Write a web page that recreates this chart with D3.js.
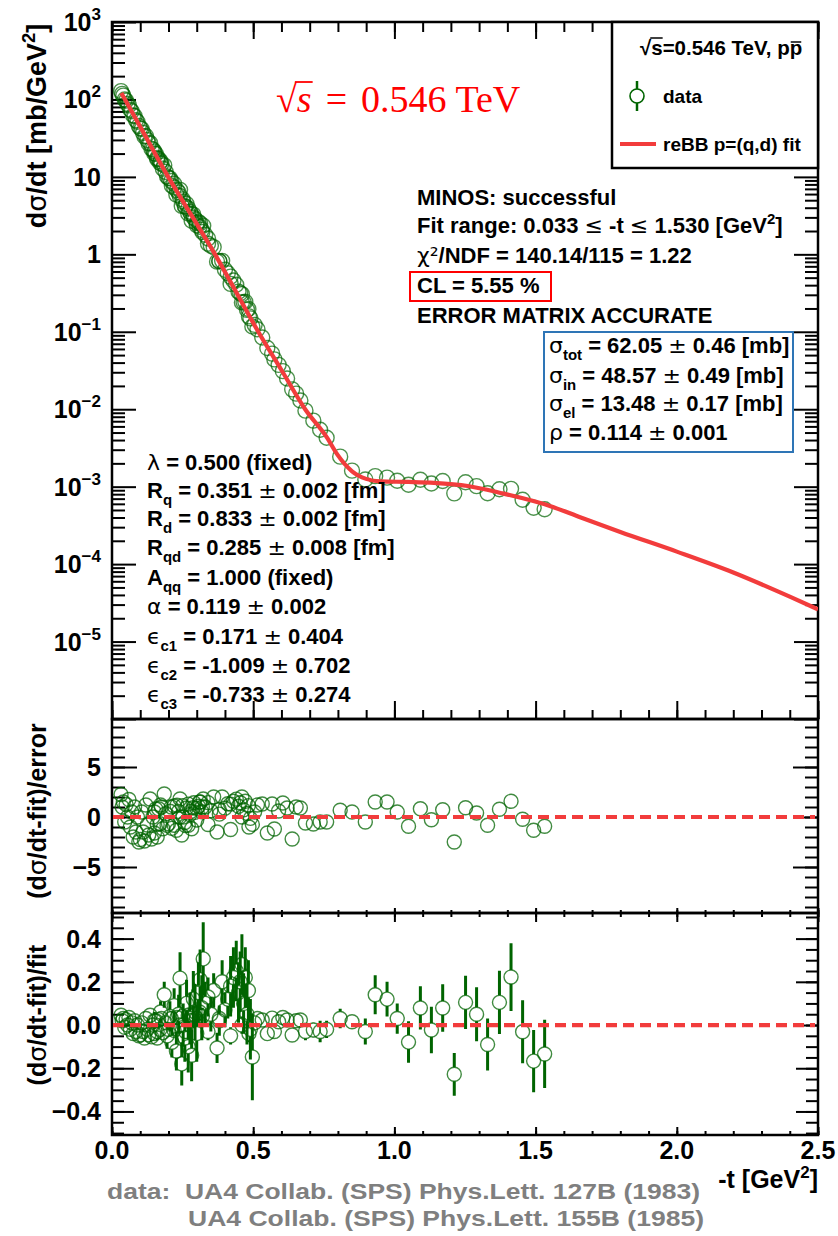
<!DOCTYPE html>
<html>
<head>
<meta charset="utf-8">
<script src="https://cdn.jsdelivr.net/npm/d3@7"></script>
<style>
  body { margin: 0; background: #fff; }
  svg { display: block; }
  text { font-family: "Liberation Sans", Arial, sans-serif; font-weight: bold; fill: #000; }
</style>
</head>
<body>
<svg id="chart" width="838" height="1236"></svg>
<script>
// ---------- measured points: -t [GeV^2], dsigma/dt [mb/GeV^2] ----------
const tVals = [
  0.032,0.036,0.040,0.045,0.050,0.055,0.060,0.065,0.070,0.075,0.080,0.085,0.090,0.095,0.100,0.105,0.110,
  0.115,0.120,0.125,0.130,0.135,0.140,0.145,0.150,0.155,
  0.160,0.165,0.170,0.175,0.180,0.190,0.200,0.210,0.220,0.230,0.240,
  0.250,0.260,0.270,0.280,0.290,0.300,0.310,0.320,
  0.340,0.380,0.420,0.460,0.485,
  0.150,0.160,0.172,0.185,0.195,0.205,0.212,0.220,0.228,0.236,
  0.241,0.247,0.252,0.258,0.264,0.270,0.276,0.282,0.288,0.294,
  0.300,0.306,0.312,0.318,0.323,0.330,0.340,0.350,0.360,0.372,
  0.380,0.390,0.400,0.410,0.420,0.430,0.440,0.448,0.454,0.460,
  0.466,0.472,0.478,0.483,0.490,0.497,
  0.505,0.515,0.532,0.550,0.567,0.575,0.590,0.605,0.620,0.638,
  0.652,0.667,0.685,0.713,0.737,0.760,0.808,0.850,0.897,0.932,
  0.974,1.010,1.050,1.092,1.131,1.171,1.212,1.252,1.291,1.330,
  1.372,1.413,1.454,1.493,1.532
];
const dsdtVals = [
  128,118,112,100,96.5,87.3,83.8,73.6,70.3,62.1,61.2,53.9,51.6,45.5,42.4,41.6,37.0,
  33.3,33.8,29.9,27.0,27.4,23.0,22.5,20.1,19.8,
  16.9,17.1,15.2,14.8,12.8,11.6,9.66,8.85,7.29,6.73,5.66,
  5.13,4.16,3.90,3.32,2.97,2.54,2.27,1.94,
  1.37,0.822,0.415,0.239,0.158,
  21.3,17.5,15.9,14.1,10.1,9.57,7.69,8.15,5.89,6.29,
  6.80,4.22,4.80,4.15,4.47,3.36,3.54,2.72,3.26,2.84,
  2.37,2.61,2.52,2.07,2.34,1.79,1.60,1.29,1.24,0.804,
  0.814,0.824,0.631,0.569,0.516,0.459,0.405,0.330,0.314,0.306,
  0.241,0.244,0.192,0.197,0.149,0.117,
  0.1228,0.1078,0.0843,0.0616,0.0523,0.0440,0.0374,0.0310,0.0249,0.01805,
  0.0159,0.01295,0.00959,0.00712,0.00544,0.00428,0.00244,0.00161,0.00124,0.00137,
  0.00131,0.00119,0.001057,0.001226,0.00110,0.001183,0.00082,0.001139,0.001016,0.000821,
  0.000925,0.000937,0.000678,0.000535,0.00051
];
// (dsigma/dt - fit)/error
const pullVals = [
  2.25,1.0,1.5,-0.5,1.25,0,1.75,-1.0,0.5,-2.0,1.0,-1.5,0,-2.5,-2.25,0.5,-1.5,
  -2.4,1.2,-0.8,-1.8,1.8,-2.2,0,-1.6,0.8,
  -2.0,0.83,-0.67,1.0,-1.17,0.33,-0.67,1.0,-0.83,1.17,0,
  1.14,-0.86,1.29,0.57,1.43,0.86,1.5,1.0,
  -0.75,0.75,-1.25,0,-1.0,
  0.5,-0.75,1.2,2.3,-0.83,0.57,-1.14,1.1,-1.33,0.56,
  1.8,-1.8,0,-0.55,0.9,-0.83,0.25,-1.17,0.92,0.46,
  -0.3,1.07,1.5,0.53,1.8,1.0,1.44,0.63,2.0,-1.5,
  0.29,2.0,0.88,1.33,1.29,1.57,1.79,1.07,1.43,2.0,
  0.71,1.57,0.36,1.14,-0.14,-0.74,
  0.5,1.2,1.3,-1.6,1.3,-1.2,0.6,1.4,0.9,-2.2,
  1.0,0.9,-0.6,-0.7,-0.5,-0.5,0.67,0.5,-0.5,1.5,
  1.5,0.5,-0.93,0.83,-0.27,0.73,-2.5,0.93,0.4,-0.83,
  0.77,1.57,-0.23,-1.33,-0.93
];
// (dsigma/dt - fit)/fit and its relative error
const relResVals = [
  0.045,0.02,0.03,-0.01,0.025,0,0.035,-0.02,0.01,-0.04,0.02,-0.03,0,-0.05,-0.045,0.01,-0.03,
  -0.06,0.03,-0.02,-0.045,0.045,-0.055,0,-0.04,0.02,
  -0.06,0.025,-0.02,0.03,-0.035,0.01,-0.02,0.03,-0.025,0.035,0,
  0.04,-0.03,0.045,0.02,0.05,0.03,0.06,0.04,
  -0.03,0.03,-0.05,0,-0.04,
  0.02,-0.03,0.06,0.14,-0.05,0.04,-0.08,0.09,-0.12,0.05,
  0.217,-0.18,0,-0.06,0.10,-0.10,0.03,-0.14,0.12,0.06,
  -0.04,0.15,0.21,0.08,0.306,0.10,0.13,0.05,0.16,-0.106,
  0.02,0.20,0.07,0.12,0.18,0.22,0.25,0.15,0.20,0.28,
  0.10,0.22,0.05,0.16,-0.02,-0.148,
  0.01,0.03,0.023,-0.04,0.032,-0.03,0.015,0.035,0.023,-0.046,
  0.02,0.023,-0.03,-0.023,-0.03,-0.02,0.03,0.015,-0.03,0.14,
  0.12,0.03,-0.079,0.079,-0.023,0.079,-0.228,0.105,0.05,-0.09,
  0.105,0.222,-0.031,-0.167,-0.134
];
const relErrVals = [
  0.02,0.02,0.02,0.02,0.02,0.02,0.02,0.02,0.02,0.02,0.02,0.02,0.02,0.02,0.02,0.02,0.02,
  0.025,0.025,0.025,0.025,0.025,0.025,0.025,0.025,0.025,
  0.03,0.03,0.03,0.03,0.03,0.03,0.03,0.03,0.03,0.03,0.03,
  0.035,0.035,0.035,0.035,0.035,0.035,0.04,0.04,
  0.04,0.04,0.04,0.04,0.04,
  0.04,0.04,0.05,0.06,0.06,0.07,0.07,0.08,0.09,0.09,
  0.12,0.10,0.10,0.11,0.11,0.12,0.12,0.12,0.13,0.13,
  0.13,0.14,0.14,0.15,0.17,0.10,0.09,0.08,0.08,0.07,
  0.07,0.10,0.08,0.09,0.14,0.14,0.14,0.14,0.14,0.14,
  0.14,0.14,0.14,0.14,0.14,0.20,
  0.02,0.025,0.018,0.025,0.025,0.025,0.025,0.025,0.025,0.021,
  0.02,0.025,0.04,0.033,0.05,0.04,0.045,0.03,0.06,0.09,
  0.08,0.07,0.096,0.10,0.108,0.11,0.099,0.123,0.125,0.12,
  0.146,0.157,0.146,0.144,0.158
];

// ---------- reBB model curve ----------
const fitT = [0.033,0.046,0.10,0.199,0.28,0.365,0.44,0.518,0.60,0.684,0.762,0.797,0.85,0.90,0.95,1.05,1.14,1.26,1.376,1.553,1.66,1.80,2.00,2.20,2.40,2.50];
const fitV = [121,100,44.4,10,3.25,1,0.324,0.1,0.0321,0.01,0.00427,0.00263,0.00158,0.00126,0.00117,0.00115,0.00112,0.00102,0.00083,0.00056,0.0004,0.00026,0.000145,0.000078,0.000038,0.000026];

// ---------- axis ticks ----------
const xMajor = [0, 0.5, 1.0, 1.5, 2.0, 2.5];
const xLabels = ["0.0", "0.5", "1.0", "1.5", "2.0", "2.5"];
const xMinor = d3.range(0, 26).map(i => i / 10);
const mainExps = [3, 2, 1, 0, -1, -2, -3, -4, -5];
const pullMajor = [-5, 0, 5];
const pullLabels = ["\u22125", "0", "5"];
const pullMinor = d3.range(-9, 10);
const relMajor = [-0.4, -0.2, 0.0, 0.2, 0.4];
const relLabels = ["\u22120.4", "\u22120.2", "0.0", "0.2", "0.4"];
const relMinor = d3.range(-10, 11).map(i => i * 0.05);

// ---------- layout ----------
const svg = d3.select("#chart");
const X0 = 112, X1 = 818;
const P1 = [22, 719], P2 = [719, 913], P3 = [913, 1135];
const GREEN = "#006400", RED = "#f23c3c";

const x = d3.scaleLinear().domain([0, 2.5]).range([X0, X1]);
const yMain = d3.scaleLog().domain([1e-6, 1e3]).range([P1[1], P1[0]]);
const yPull = d3.scaleLinear().domain([-9.6, 9.8]).range([P2[1], P2[0]]);
const yRel = d3.scaleLinear().domain([-0.509, 0.5185]).range([P3[1], P3[0]]);

const logMinor = [];
for (let e = -6; e < 3; e++) for (let m = 2; m <= 9; m++) logMinor.push(m * Math.pow(10, e));
const logMajor = d3.range(-6, 4).map(e => Math.pow(10, e));

function tickGroup(axisGen, scale, vals, size, tx, ty) {
  const g = svg.append("g").attr("transform", `translate(${tx},${ty})`)
    .call(axisGen(scale).tickValues(vals).tickSize(size).tickFormat(""));
  g.select(".domain").remove();
  g.selectAll("line").attr("stroke", "#000").attr("stroke-width", 2);
  return g;
}

// ticks on all four sides of each pad
function padTicks(yScale, yMaj, yMin, yMajLen, yMinLen, top, bottom, xb, xt) {
  tickGroup(d3.axisRight, yScale, yMaj, yMajLen, X0, 0);
  tickGroup(d3.axisRight, yScale, yMin, yMinLen, X0, 0);
  tickGroup(d3.axisLeft, yScale, yMaj, yMajLen, X1, 0);
  tickGroup(d3.axisLeft, yScale, yMin, yMinLen, X1, 0);
  if (xb) { tickGroup(d3.axisTop, x, xMajor, xb[0], 0, bottom); tickGroup(d3.axisTop, x, xMinor, xb[1], 0, bottom); }
  if (xt) { tickGroup(d3.axisBottom, x, xMajor, xt[0], 0, top); tickGroup(d3.axisBottom, x, xMinor, xt[1], 0, top); }
}

padTicks(yMain, logMajor, logMinor, 24, 13, P1[0], P1[1], [18, 9], [17, 10]);
padTicks(yPull, pullMajor, pullMinor, 25, 13, P2[0], P2[1], [5, 3], null);
padTicks(yRel, relMajor, relMinor, 22, 12, P3[0], P3[1], [8, 4], [9, 4]);

// pad frames
[P1, P2, P3].forEach(p => {
  svg.append("rect").attr("x", X0).attr("y", p[0]).attr("width", X1 - X0).attr("height", p[1] - p[0])
    .attr("fill", "none").attr("stroke", "#000").attr("stroke-width", 2.5);
});

// ---------- tick labels ----------
const lab = svg.append("g");
mainExps.forEach(e => {
  const t = lab.append("text").attr("x", 101).attr("y", yMain(Math.pow(10, e)) + 9)
    .attr("text-anchor", "end").attr("font-size", 25);
  if (e === 0) t.text("1");
  else if (e === 1) t.text("10");
  else {
    t.append("tspan").text("10");
    t.append("tspan").attr("dy", -11).attr("font-size", 17).text(e < 0 ? "\u2212" + (-e) : String(e));
  }
});
pullMajor.forEach((v, i) => {
  lab.append("text").attr("x", 101).attr("y", yPull(v) + 9).attr("text-anchor", "end")
    .attr("font-size", 25).text(pullLabels[i]);
});
relMajor.forEach((v, i) => {
  lab.append("text").attr("x", 101).attr("y", yRel(v) + 9).attr("text-anchor", "end")
    .attr("font-size", 25).text(relLabels[i]);
});
xMajor.forEach((v, i) => {
  lab.append("text").attr("x", x(v)).attr("y", 1159).attr("text-anchor", "middle")
    .attr("font-size", 25).text(xLabels[i]);
});

// ---------- rich text helper (sub/superscripts, greek glyphs) ----------
function rich(g, px, py, parts, size, anchor) {
  const t = g.append("text").attr("x", px).attr("y", py).attr("font-size", size)
    .attr("text-anchor", anchor || "start");
  let shift = 0;
  parts.forEach(p => {
    if (typeof p === "string") p = { s: p };
    const s = t.append("tspan").text(p.s);
    const target = p.sub ? size * 0.32 : p.sup ? -size * 0.42 : 0;
    if (target !== shift) { s.attr("dy", target - shift); shift = target; }
    if (p.sub || p.sup) s.attr("font-size", size * 0.68);
    if (p.g) s.style("font-family", "'DejaVu Sans', sans-serif").style("font-weight", "normal");
  });
  return t;
}

// axis titles
const ttl = svg.append("g");
rich(ttl, 0, 0, ["d", { s: "\u03c3", g: 1 }, "/dt [mb/GeV", { s: "2", sup: 1 }, "]"], 27, "middle")
  .attr("transform", "translate(46,126) rotate(-90)");
rich(ttl, 0, 0, ["(d", { s: "\u03c3", g: 1 }, "/dt-fit)/error"], 25, "middle")
  .attr("transform", "translate(46,811) rotate(-90)");
rich(ttl, 0, 0, ["(d", { s: "\u03c3", g: 1 }, "/dt-fit)/fit"], 25, "middle")
  .attr("transform", "translate(46,1015) rotate(-90)");
rich(ttl, 818, 1188, ["-t [GeV", { s: "2", sup: 1 }, "]"], 25, "end");

// data reference
const foot = svg.append("g");
foot.append("text").attr("x", 107).attr("y", 1199).attr("font-size", 22.5)
  .attr("textLength", 593).attr("lengthAdjust", "spacingAndGlyphs")
  .style("fill", "#7f7f7f").attr("xml:space", "preserve")
  .text("data:  UA4 Collab. (SPS) Phys.Lett. 127B (1983)");
foot.append("text").attr("x", 188).attr("y", 1226).attr("font-size", 22.5)
  .attr("textLength", 516).attr("lengthAdjust", "spacingAndGlyphs")
  .style("fill", "#7f7f7f").text("UA4 Collab. (SPS) Phys.Lett. 155B (1985)");

// ---------- main pad: data and fit ----------
svg.append("clipPath").attr("id", "clip1").append("rect")
  .attr("x", X0).attr("y", P1[0]).attr("width", X1 - X0).attr("height", P1[1] - P1[0]);
const fitLine = d3.line().x(d => x(d[0])).y(d => yMain(d[1])).curve(d3.curveMonotoneX);
const main = svg.append("g").attr("clip-path", "url(#clip1)");
main.append("g").selectAll("circle").data(tVals.map((t, i) => [t, dsdtVals[i]])).join("circle")
  .attr("cx", d => x(d[0])).attr("cy", d => yMain(d[1])).attr("r", 7.5)
  .attr("fill", "none").attr("stroke", GREEN).attr("stroke-opacity", 0.7).attr("stroke-width", 1.4);
main.append("path").datum(fitT.map((t, i) => [t, fitV[i]])).attr("d", fitLine)
  .attr("fill", "none").attr("stroke", RED).attr("stroke-width", 4.2);

// ---------- residual pads ----------
function zeroLine(yScale) {
  svg.append("line").attr("x1", X0 + 1).attr("x2", X1 - 3).attr("y1", yScale(0)).attr("y2", yScale(0))
    .attr("stroke", RED).attr("stroke-width", 4.2).attr("stroke-dasharray", "11,6");
}
const R = 7;

const pullG = svg.append("g");
zeroLine(yPull);
pullG.selectAll("circle").data(tVals.map((t, i) => [t, pullVals[i]])).join("circle")
  .attr("cx", d => x(d[0])).attr("cy", d => yPull(d[1])).attr("r", R)
  .attr("fill", "none").attr("stroke", GREEN).attr("stroke-opacity", 0.75).attr("stroke-width", 1.4);

svg.append("clipPath").attr("id", "clip3").append("rect")
  .attr("x", X0).attr("y", P3[0]).attr("width", X1 - X0).attr("height", P3[1] - P3[0]);
const relG = svg.append("g").attr("clip-path", "url(#clip3)");
const relData = tVals.map((t, i) => ({ t, r: relResVals[i], e: relErrVals[i] }));
// error bars drawn outside the marker
relG.selectAll("path.eb").data(relData).join("path").attr("class", "eb")
  .attr("d", d => {
    const cx = x(d.t), cy = yRel(d.r), hi = yRel(d.r + d.e), lo = yRel(d.r - d.e);
    let p = "";
    if (cy - R > hi) p += `M${cx},${hi}V${cy - R}`;
    if (lo > cy + R) p += `M${cx},${cy + R}V${lo}`;
    return p || null;
  })
  .attr("stroke", GREEN).attr("stroke-width", 3).attr("fill", "none");
zeroLine(yRel);
relG.selectAll("circle").data(relData).join("circle")
  .attr("cx", d => x(d.t)).attr("cy", d => yRel(d.r)).attr("r", R)
  .attr("fill", "none").attr("stroke", GREEN).attr("stroke-opacity", 0.75).attr("stroke-width", 1.4);

// ---------- annotations ----------
const ann = svg.append("g");

// energy label with radical
const en = ann.append("text").attr("x", 276).attr("y", 112).attr("font-size", 38)
  .style("fill", "#ff0000").style("font-family", "'Liberation Serif', 'DejaVu Serif', serif")
  .style("font-weight", "normal");
en.append("tspan").text("\u221a");
en.append("tspan").style("font-style", "italic").text("s");
en.append("tspan").attr("dx", 14).text("=");
en.append("tspan").attr("dx", 14).text("0.546 TeV");
{
  const a = en.node().getExtentOfChar(0), b = en.node().getExtentOfChar(1);
  ann.append("line").attr("x1", a.x + a.width - 2).attr("x2", b.x + b.width + 1)
    .attr("y1", a.y + 4).attr("y2", a.y + 4).attr("stroke", "#ff0000").attr("stroke-width", 1.8);
}

// legend
const leg = svg.append("g");
leg.append("rect").attr("x", 612).attr("y", 22).attr("width", 206).attr("height", 146)
  .attr("fill", "#fff").attr("stroke", "#000").attr("stroke-width", 2.5);
const lh = leg.append("text").attr("x", 640).attr("y", 55).attr("font-size", 20.5).text("\u221as=0.546 TeV, pp");
{
  const n = lh.node();
  const last = n.getNumberOfChars() - 1;
  const r = n.getExtentOfChar(0), s = n.getExtentOfChar(1), p = n.getExtentOfChar(last);
  leg.append("line").attr("x1", r.x + r.width - 1).attr("x2", s.x + s.width).attr("y1", r.y + 2).attr("y2", r.y + 2)
    .attr("stroke", "#000").attr("stroke-width", 1.5);
  leg.append("line").attr("x1", p.x + 1).attr("x2", p.x + p.width - 1).attr("y1", r.y + 6).attr("y2", r.y + 6)
    .attr("stroke", "#000").attr("stroke-width", 1.5);
}
leg.append("line").attr("x1", 637).attr("x2", 637).attr("y1", 81).attr("y2", 111)
  .attr("stroke", GREEN).attr("stroke-width", 2.5);
leg.append("circle").attr("cx", 637).attr("cy", 96).attr("r", 7).attr("fill", "#fff")
  .attr("stroke", GREEN).attr("stroke-width", 1.6);
leg.append("text").attr("x", 663).attr("y", 103).attr("font-size", 19).text("data");
leg.append("line").attr("x1", 620).attr("x2", 656).attr("y1", 144).attr("y2", 144)
  .attr("stroke", RED).attr("stroke-width", 4);
leg.append("text").attr("x", 663).attr("y", 151).attr("font-size", 19).text("reBB p=(q,d) fit");

// fit status block
const fs = 22;
rich(ann, 417, 205, ["MINOS: successful"], fs);
rich(ann, 417, 233, ["Fit range: 0.033 ", { s: "\u2264", g: 1 }, " -t ", { s: "\u2264", g: 1 }, " 1.530 [GeV", { s: "2", sup: 1 }, "]"], fs);
rich(ann, 417, 263, [{ s: "\u03c7\u00b2", g: 1 }, "/NDF = 140.14/115 = 1.22"], fs);
rich(ann, 417, 293, ["CL = 5.55 %"], fs);
rich(ann, 417, 323, ["ERROR MATRIX ACCURATE"], fs);
ann.append("rect").attr("x", 410).attr("y", 272).attr("width", 141).attr("height", 29)
  .attr("fill", "none").attr("stroke", "#ff0000").attr("stroke-width", 2);

// cross sections box
ann.append("rect").attr("x", 544).attr("y", 332).attr("width", 249).attr("height", 120)
  .attr("fill", "none").attr("stroke", "#2e75b6").attr("stroke-width", 2);
rich(ann, 549, 353, [{ s: "\u03c3", g: 1 }, { s: "tot", sub: 1 }, " = 62.05 ", { s: "\u00b1", g: 1 }, " 0.46 [mb]"], fs);
rich(ann, 549, 383, [{ s: "\u03c3", g: 1 }, { s: "in", sub: 1 }, " = 48.57 ", { s: "\u00b1", g: 1 }, " 0.49 [mb]"], fs);
rich(ann, 549, 411, [{ s: "\u03c3", g: 1 }, { s: "el", sub: 1 }, " = 13.48 ", { s: "\u00b1", g: 1 }, " 0.17 [mb]"], fs);
rich(ann, 549, 440, [{ s: "\u03c1", g: 1 }, " = 0.114 ", { s: "\u00b1", g: 1 }, " 0.001"], fs);

// model parameters
const px = 147;
rich(ann, px, 470, [{ s: "\u03bb", g: 1 }, " = 0.500 (fixed)"], fs);
rich(ann, px, 498, ["R", { s: "q", sub: 1 }, " = 0.351 ", { s: "\u00b1", g: 1 }, " 0.002 [fm]"], fs);
rich(ann, px, 526, ["R", { s: "d", sub: 1 }, " = 0.833 ", { s: "\u00b1", g: 1 }, " 0.002 [fm]"], fs);
rich(ann, px, 555, ["R", { s: "qd", sub: 1 }, " = 0.285 ", { s: "\u00b1", g: 1 }, " 0.008 [fm]"], fs);
rich(ann, px, 585, ["A", { s: "qq", sub: 1 }, " = 1.000 (fixed)"], fs);
rich(ann, px, 614, [{ s: "\u03b1", g: 1 }, " = 0.119 ", { s: "\u00b1", g: 1 }, " 0.002"], fs);
rich(ann, px, 644, [{ s: "\u03f5", g: 1 }, { s: "c1", sub: 1 }, " = 0.171 ", { s: "\u00b1", g: 1 }, " 0.404"], fs);
rich(ann, px, 673, [{ s: "\u03f5", g: 1 }, { s: "c2", sub: 1 }, " = -1.009 ", { s: "\u00b1", g: 1 }, " 0.702"], fs);
rich(ann, px, 702, [{ s: "\u03f5", g: 1 }, { s: "c3", sub: 1 }, " = -0.733 ", { s: "\u00b1", g: 1 }, " 0.274"], fs);
</script>
</body>
</html>
